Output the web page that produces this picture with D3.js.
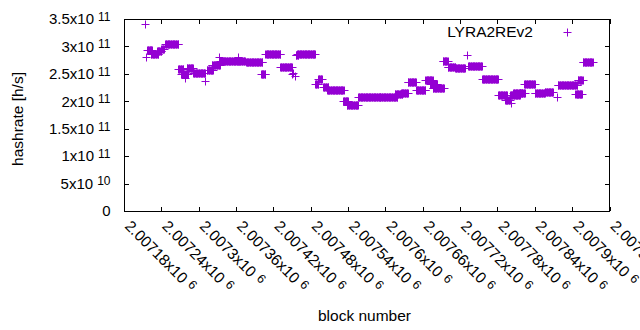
<!DOCTYPE html>
<html>
<head>
<meta charset="utf-8">
<script src="https://cdn.jsdelivr.net/npm/d3@7"></script>
<style>
  html, body { margin: 0; padding: 0; background: #fff; }
  text { font-family: "Liberation Sans", Arial, sans-serif; fill: #000; }
</style>
</head>
<body>
<svg id="chart" width="640" height="330"></svg>
<script>
// ---- data ----
// Runs of consecutive blocks sharing one hashrate value (in 1e9 h/s)
const runStart = [2007214,2007215,2007217,2007223,2007233,2007240,2007246,2007267,2007272,2007278,
  2007281,2007291,2007310,2007313,2007321,2007333,2007334,2007363,2007363,2007376,
  2007400,2007407,2007431,2007450,2007452,2007454,2007456,2007458,2007487,2007492,
  2007500,2007506,2007532,2007538,2007556,2007591,2007615,2007625,2007636,2007649,
  2007664,2007672,2007676,2007692,2007700,2007712,2007731,2007733,2007755,2007781,
  2007792,2007802,2007800,2007805,2007816,2007823,2007840,2007856,2007875,2007877,
  2007909,2007905,2007917];
const runEnd = [2007214,2007215,2007225,2007235,2007240,2007244,2007267,2007275,2007283,2007278,
  2007291,2007310,2007310,2007323,2007334,2007333,2007363,2007363,2007374,2007402,
  2007407,2007431,2007450,2007450,2007452,2007454,2007460,2007487,2007492,2007498,
  2007508,2007533,2007540,2007556,2007591,2007619,2007627,2007636,2007649,2007664,
  2007676,2007683,2007694,2007700,2007712,2007728,2007731,2007755,2007781,2007795,
  2007800,2007802,2007816,2007819,2007824,2007840,2007856,2007869,2007875,2007908,
  2007917,2007916,2007933];
const runRate = [340,281,293,287,291,296,304,258,250,243,
  261,251,237.5,257,266,281,273.5,281,273,271,
  249,286,263,250,252,246,284,285.5,231,240.6,
  226,220,200.5,192.7,207,208,212.7,216,235.7,220,
  239,231.5,224,273.8,263,260,284.4,264.6,240.6,211,
  203,197,211,214.5,215,231.5,215.6,217,208,230,
  239,213,271];

const xTickValues = [2007180,2007240,2007300,2007360,2007420,2007480,2007540,2007600,2007660,2007720,2007780,2007840,2007900,2007960];
const xTickLabels = ["2.00718","2.00724","2.0073","2.00736","2.00742","2.00748","2.00754","2.0076","2.00766","2.00772","2.00778","2.00784","2.0079","2.00796"];
const xTickExp = "6";
const yTickValues = [0,5e10,1e11,1.5e11,2e11,2.5e11,3e11,3.5e11];
const yTickMant = ["0","5x10","1x10","1.5x10","2x10","2.5x10","3x10","3.5x10"];
const yTickExp = ["","10","11","11","11","11","11","11"];
const seriesName = "LYRA2REv2";
const color = "#9400d3";

// ---- build points: each block in a run ----
const points = [];
runStart.forEach((s, i) => {
  for (let b = s; b <= runEnd[i]; b++) points.push({ block: b, rate: runRate[i] * 1e9 });
});

// ---- layout ----
const svg = d3.select("#chart");
const L = 124, R = 609.5, T = 19, B = 211;
const x = d3.scaleLinear().domain([2007180, 2007960]).range([L, R]);
const y = d3.scaleLinear().domain([0, 3.5e11]).range([B, T]);

svg.append("rect").attr("width", 640).attr("height", 330).attr("fill", "#fff");

const tick = 4.5;
svg.append("g").attr("transform", `translate(${L},0)`)
  .call(d3.axisRight(y).tickValues(yTickValues).tickSize(tick).tickFormat(""))
  .call(g => g.select(".domain").remove());
svg.append("g").attr("transform", `translate(${R},0)`)
  .call(d3.axisLeft(y).tickValues(yTickValues).tickSize(tick).tickFormat(""))
  .call(g => g.select(".domain").remove());
svg.append("g").attr("transform", `translate(0,${B})`)
  .call(d3.axisTop(x).tickValues(xTickValues).tickSize(tick).tickFormat(""))
  .call(g => g.select(".domain").remove());
svg.append("g").attr("transform", `translate(0,${T})`)
  .call(d3.axisBottom(x).tickValues(xTickValues).tickSize(tick).tickFormat(""))
  .call(g => g.select(".domain").remove());
svg.selectAll(".tick line").attr("stroke", "#000").attr("shape-rendering", "crispEdges");

svg.append("rect").attr("x", L).attr("y", T).attr("width", R - L).attr("height", B - T)
  .attr("fill", "none").attr("stroke", "#000").attr("shape-rendering", "crispEdges");

// y tick labels
yTickValues.forEach((v, i) => {
  const t = svg.append("text").attr("x", 110.5).attr("y", y(v) + 5.3)
    .attr("text-anchor", "end").style("font-size", "15px");
  t.append("tspan").text(yTickMant[i]);
  if (yTickExp[i]) t.append("tspan").attr("dx", 4).attr("dy", -3.5).style("font-size", "12px").text(yTickExp[i]);
});

// x tick labels (rotated)
xTickValues.forEach((v, i) => {
  const t = svg.append("text")
    .attr("transform", `translate(${x(v)},227) rotate(45)`)
    .attr("text-anchor", "start").style("font-size", "15.5px");
  t.append("tspan").text(xTickLabels[i] + "x10");
  t.append("tspan").attr("dx", 5).attr("dy", -3.5).style("font-size", "12.5px").text(xTickExp);
});

// axis titles
svg.append("text").attr("x", 364.5).attr("y", 321).attr("text-anchor", "middle")
  .style("font-size", "15.5px").text("block number");
svg.append("text").attr("transform", "translate(23,119) rotate(-90)").attr("text-anchor", "middle")
  .style("font-size", "15.5px").text("hashrate [h/s]");

// points
const plus = "M-4,0H4M0,-4V4";
svg.append("g").selectAll("path").data(points).join("path")
  .attr("transform", d => `translate(${Math.round(x(d.block)) + 0.5},${Math.round(y(d.rate)) + 0.5})`)
  .attr("d", plus).attr("stroke", color).attr("stroke-width", 1).attr("fill", "none");

// legend
svg.append("text").attr("x", 533).attr("y", 37).attr("text-anchor", "end")
  .style("font-size", "15.5px").text(seriesName);
svg.append("path").attr("transform", "translate(567.5,32.5)").attr("d", plus)
  .attr("stroke", color).attr("stroke-width", 1).attr("fill", "none");
</script>
</body>
</html>
